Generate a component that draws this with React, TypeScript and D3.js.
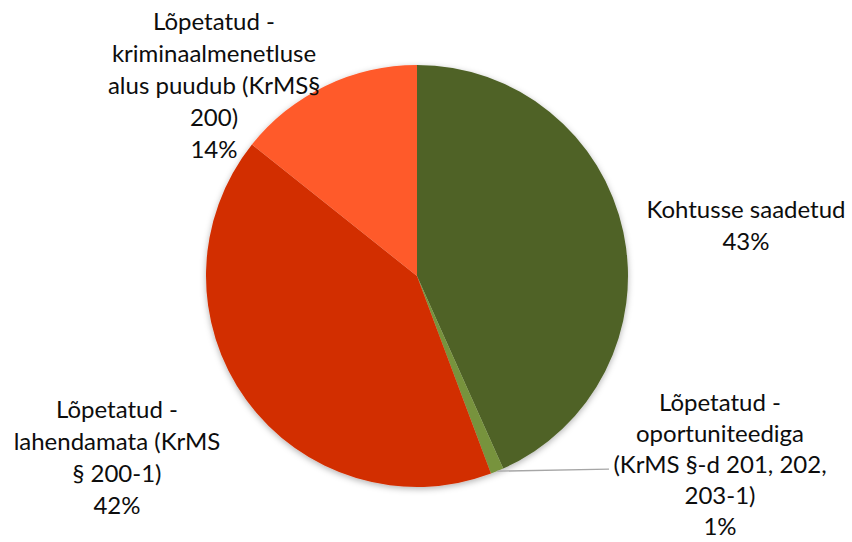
import React, { useEffect, useRef } from 'react';
import * as d3 from 'd3';

const categories = [
  'Kohtusse saadetud',
  'Lõpetatud - oportuniteediga (KrMS §-d 201, 202, 203-1)',
  'Lõpetatud - lahendamata (KrMS § 200-1)',
  'Lõpetatud - kriminaalmenetluse alus puudub (KrMS§ 200)',
];
const values = [43.3, 1.0, 41.4, 14.3];
const pctLabels = ['43%', '1%', '42%', '14%'];
// wrapped label lines as they appear in the chart
const labelLines = [
  ['Kohtusse saadetud'],
  ['Lõpetatud -', 'oportuniteediga', '(KrMS §-d 201, 202,', '203-1)'],
  ['Lõpetatud -', 'lahendamata (KrMS', '§ 200-1)'],
  ['Lõpetatud -', 'kriminaalmenetluse', 'alus puudub (KrMS§', '200)'],
];
const colors = ['#4F6228', '#77933C', '#D22F02', '#FF5A2B'];

const App: React.FC = () => {
  const svgRef = useRef<SVGSVGElement>(null);

  useEffect(() => {
    if (!svgRef.current) return;
    const width = 852;
    const height = 542;
    const cx = 417;
    const cy = 276;
    const radius = 211;

    const svg = d3.select(svgRef.current);
    svg.selectAll('*').remove();

    const defs = svg.append('defs');
    const filter = defs.append('filter').attr('id', 'shadow')
      .attr('x', '-10%').attr('y', '-10%').attr('width', '120%').attr('height', '120%');
    filter.append('feDropShadow')
      .attr('dx', 0).attr('dy', 2).attr('stdDeviation', 3)
      .attr('flood-color', '#000').attr('flood-opacity', 0.3);

    const g = svg.append('g').attr('transform', `translate(${cx},${cy})`);

    const pie = d3.pie<number>().sort(null).value(d => d);
    const arcs = pie(values);
    const arc = d3.arc<d3.PieArcDatum<number>>().innerRadius(0).outerRadius(radius);

    const slices = g.append('g').style('filter', 'url(#shadow)');
    slices.selectAll('path')
      .data(arcs)
      .enter()
      .append('path')
      .attr('d', arc)
      .style('fill', (d, i) => colors[i]);

    // leader line for the small slice
    const small = arcs[1];
    const mid = (small.startAngle + small.endAngle) / 2;
    const px = radius * Math.sin(mid);
    const py = -radius * Math.cos(mid);
    g.append('line')
      .attr('x1', px).attr('y1', py)
      .attr('x2', 609 - cx).attr('y2', py - 2)
      .style('stroke', '#A6A6A6')
      .style('stroke-width', 1.3);

    // label positions (center x, first line center y, line spacing)
    const labelPos = [
      { x: 746, y: 210, h: 31.8 },
      { x: 720, y: 403, h: 30.8 },
      { x: 117, y: 410, h: 31.8 },
      { x: 214, y: 22, h: 31.8 },
    ];

    labelLines.forEach((lines, i) => {
      const t = svg.append('text')
        .attr('text-anchor', 'middle')
        .style('font-family', 'Lato, "Open Sans", sans-serif')
        .style('font-size', '24px')
        .style('fill', '#0d0d0d');
      [...lines, pctLabels[i]].forEach((ln, j) => {
        t.append('tspan')
          .attr('x', labelPos[i].x)
          .attr('y', labelPos[i].y + j * labelPos[i].h)
          .attr('dy', '0.35em')
          .text(ln);
      });
    });

    svg.attr('width', width).attr('height', height);
  }, []);

  return (
    <div style={{ position: 'absolute', left: 0, top: 0, width: 852, height: 542, background: '#fff' }}>
      <svg ref={svgRef} width={852} height={542} style={{ display: 'block' }} />
    </div>
  );
};

export default App;
